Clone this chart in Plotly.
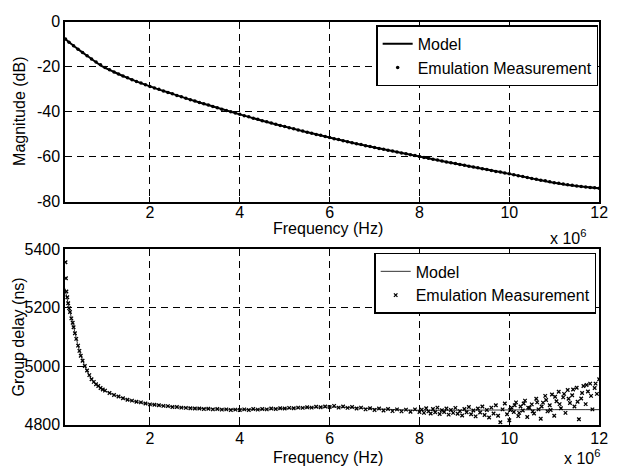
import plotly.graph_objects as go

# ---------------- data (frequency in MHz, i.e. x 10^6 Hz) ----------------
mag_model_f = [0.11, 0.25, 0.42, 0.6, 0.93, 1.2, 1.5, 2.0, 2.5, 3.0, 3.5, 4.0, 4.5, 5.0,
               5.5, 6.0, 6.5, 7.0, 7.5, 8.0, 8.5, 9.0, 9.5, 10.0, 10.5, 11.0, 11.5, 12.0]
mag_model_db = [-7.6, -10.0, -12.6, -15.2, -19.8, -22.4, -25.0, -28.8, -32.1, -35.3, -38.3,
                -41.2, -44.0, -46.6, -49.1, -51.5, -53.8, -55.9, -57.9, -59.9, -61.9, -63.8,
                -65.7, -67.6, -69.6, -71.5, -73.0, -74.0]

mag_meas_f = [0.12, 0.2, 0.3, 0.4, 0.5, 0.6, 0.7, 0.8, 0.9, 1.0, 1.1, 1.2, 1.3, 1.4, 1.5, 1.6,
              1.7, 1.8, 1.9, 2.0, 2.1, 2.2, 2.3, 2.4, 2.5, 2.6, 2.7, 2.8, 2.9, 3.0, 3.1, 3.2,
              3.3, 3.4, 3.5, 3.6, 3.7, 3.8, 3.9, 4.0, 4.1, 4.2, 4.3, 4.4, 4.5, 4.6, 4.7, 4.8,
              4.9, 5.0, 5.1, 5.2, 5.3, 5.4, 5.5, 5.6, 5.7, 5.8, 5.9, 6.0, 6.1, 6.2, 6.3, 6.4,
              6.5, 6.6, 6.7, 6.8, 6.9, 7.0, 7.1, 7.2, 7.3, 7.4, 7.5, 7.6, 7.7, 7.8, 7.9, 8.0,
              8.1, 8.2, 8.3, 8.4, 8.5, 8.6, 8.7, 8.8, 8.9, 9.0, 9.1, 9.2, 9.3, 9.4, 9.5, 9.6,
              9.7, 9.8, 9.9, 10.0, 10.1, 10.2, 10.3, 10.4, 10.5, 10.6, 10.7, 10.8, 10.9, 11.0,
              11.1, 11.2, 11.3, 11.4, 11.5, 11.6, 11.7, 11.8, 11.9, 12.0]
mag_meas_db = [-7.8, -9.2, -10.8, -12.3, -13.8, -15.2, -16.6, -18.0, -19.2, -20.4, -21.4,
               -22.4, -23.3, -24.2, -25.0, -25.8, -26.6, -27.3, -28.1, -28.8, -29.5, -30.1,
               -30.8, -31.5, -32.1, -32.8, -33.4, -34.0, -34.7, -35.3, -35.9, -36.5, -37.1,
               -37.7, -38.3, -38.9, -39.5, -40.0, -40.6, -41.2, -41.8, -42.3, -42.9, -43.4,
               -44.0, -44.5, -45.0, -45.6, -46.1, -46.6, -47.1, -47.6, -48.1, -48.6, -49.1,
               -49.6, -50.1, -50.5, -51.0, -51.5, -52.0, -52.4, -52.9, -53.3, -53.8, -54.2,
               -54.6, -55.1, -55.5, -55.9, -56.3, -56.7, -57.1, -57.5, -57.9, -58.3, -58.7,
               -59.1, -59.5, -59.9, -60.3, -60.7, -61.1, -61.5, -61.9, -62.3, -62.7, -63.0,
               -63.4, -63.8, -64.2, -64.6, -64.9, -65.3, -65.7, -66.1, -66.5, -66.8, -67.2,
               -67.6, -68.0, -68.4, -68.8, -69.2, -69.6, -70.0, -70.4, -70.7, -71.1, -71.5,
               -71.8, -72.1, -72.4, -72.7, -73.0, -73.2, -73.4, -73.6, -73.8, -74.0]

gd_model_f = [0.11, 0.15, 0.2, 0.25, 0.31, 0.36, 0.42, 0.5, 0.57, 0.65, 0.72, 0.82, 0.94,
              1.08, 1.23, 1.4, 1.6, 1.8, 2.0, 2.5, 3.0, 3.5, 4.0, 4.5, 5.0, 5.5, 6.0, 6.5,
              7.0, 7.5, 8.0, 9.0, 10.0, 11.0, 12.0]
gd_model_ns = [5265, 5235, 5200, 5165, 5128, 5095, 5058, 5020, 4993, 4968, 4950, 4935, 4921,
               4910, 4900, 4890, 4881, 4875, 4870, 4861, 4856, 4853, 4851, 4852, 4855, 4858,
               4860, 4858, 4854, 4851, 4849, 4849, 4850, 4851, 4851]

gd_meas_f = [0.12, 0.13, 0.14, 0.16, 0.18, 0.2, 0.22, 0.25, 0.28, 0.3, 0.33, 0.36, 0.4, 0.43,
             0.46, 0.5, 0.55, 0.6, 0.65, 0.7, 0.75, 0.8, 0.85, 0.9, 0.95, 1.0, 1.1, 1.2, 1.3,
             1.4, 1.5, 1.6, 1.7, 1.8, 1.9, 2.0,
             2.1, 2.2, 2.3, 2.4, 2.5, 2.6, 2.7, 2.8, 2.9, 3.0, 3.1, 3.2, 3.3, 3.4, 3.5, 3.6,
             3.7, 3.8, 3.9, 4.0, 4.1, 4.2, 4.3, 4.4, 4.5, 4.6, 4.7, 4.8, 4.9, 5.0, 5.1, 5.2,
             5.3, 5.4, 5.5, 5.6, 5.7, 5.8, 5.9, 6.0, 6.1, 6.2, 6.3, 6.4, 6.5, 6.6, 6.7, 6.8,
             6.9, 7.0, 7.1, 7.2, 7.3, 7.4, 7.5, 7.6, 7.7, 7.8, 7.9, 8.0,
             8.05, 8.1, 8.15, 8.2, 8.25, 8.3, 8.35, 8.4, 8.45, 8.5, 8.55, 8.6, 8.65, 8.7,
             8.75, 8.8, 8.85, 8.9, 8.95, 9.0, 9.05, 9.1, 9.15, 9.2, 9.25, 9.3, 9.35, 9.4,
             9.45, 9.5, 9.55, 9.6, 9.65, 9.7, 9.75, 9.8, 9.85, 9.9, 9.95, 10.0, 10.05, 10.1,
             10.15, 10.2, 10.25, 10.3, 10.35, 10.4, 10.45, 10.5, 10.55, 10.6, 10.65, 10.7,
             10.75, 10.8, 10.85, 10.9, 10.95, 11.0, 11.05, 11.1, 11.15, 11.2, 11.25, 11.3,
             11.35, 11.4, 11.45, 11.5, 11.55, 11.6, 11.65, 11.7, 11.75, 11.8, 11.85, 11.9,
             11.95, 12.0,
             10.02, 10.12, 10.22, 10.32, 10.42, 10.52, 10.62, 10.72, 10.82, 10.92, 11.02,
             11.12, 11.22, 11.32, 11.42, 11.52, 11.62, 11.72, 11.82, 11.92]
gd_meas_ns = [5355, 5300, 5255, 5235, 5215, 5198, 5185, 5163, 5148, 5133, 5112, 5093, 5070,
              5052, 5035, 5018, 5000, 4985, 4969, 4955, 4946, 4938, 4932, 4925, 4920, 4916,
              4908, 4901, 4896, 4890, 4885, 4882, 4878, 4876, 4872, 4869,
              4868, 4866, 4864, 4863, 4860, 4860, 4858, 4857, 4856, 4855, 4855, 4853, 4854,
              4852, 4853, 4851, 4852, 4850, 4851, 4850, 4852, 4850, 4853, 4851, 4853, 4852,
              4855, 4853, 4856, 4855, 4857, 4856, 4858, 4857, 4859, 4858, 4861, 4859, 4862,
              4860, 4864, 4858, 4862, 4857, 4860, 4855, 4858, 4852, 4856, 4850, 4855, 4848,
              4853, 4846, 4852, 4845, 4851, 4844, 4852, 4843,
              4851, 4840, 4856, 4845, 4838, 4853, 4842, 4858, 4836, 4849, 4843, 4855, 4834,
              4850, 4840, 4857, 4837, 4846, 4831, 4853, 4842, 4860, 4835, 4848, 4828, 4855,
              4841, 4862, 4833, 4850, 4824, 4858, 4838, 4866, 4830, 4808, 4852, 4872, 4835,
              4815, 4858, 4843, 4876, 4829, 4862, 4848, 4882, 4826, 4857, 4869, 4838, 4888,
              4852, 4820, 4875, 4898, 4845, 4866, 4903, 4830, 4880, 4912, 4856, 4893, 4840,
              4918, 4874, 4900, 4862, 4926, 4818, 4889, 4932, 4870, 4913, 4940, 4852, 4925,
              4905, 4955,
              4850, 4866, 4840, 4872, 4858, 4845, 4876, 4862, 4884, 4850, 4895, 4870, 4905,
              4888, 4920, 4878, 4908, 4935, 4898, 4940]

x_ticks = [2, 4, 6, 8, 10, 12]
mag_ticks = [-80, -60, -40, -20, 0]
gd_ticks = [4800, 5000, 5200, 5400]

# ---------------- figure ----------------
W, H = 618, 476
FONT = "Liberation Sans, Arial, sans-serif"


def px_x(p):
    return p / W


def px_y(p):
    return 1 - p / H


fig = go.Figure()

fig.add_trace(go.Scatter(x=mag_model_f, y=mag_model_db, mode="lines", name="Model",
                         line=dict(color="black", width=2, shape="spline"),
                         xaxis="x", yaxis="y", legend="legend"))
fig.add_trace(go.Scatter(x=mag_meas_f, y=mag_meas_db, mode="markers", name="Emulation Measurement",
                         marker=dict(color="black", size=3.5, symbol="circle"),
                         xaxis="x", yaxis="y", legend="legend"))
fig.add_trace(go.Scatter(x=gd_model_f, y=gd_model_ns, mode="lines", name="Model",
                         line=dict(color="#333333", width=1, shape="spline"),
                         xaxis="x2", yaxis="y2", legend="legend2"))
fig.add_trace(go.Scatter(x=gd_meas_f, y=gd_meas_ns, mode="markers", name="Emulation Measurement",
                         marker=dict(color="black", size=3.5, symbol="x-thin",
                                     line=dict(color="black", width=1.3)),
                         xaxis="x2", yaxis="y2", legend="legend2"))

xdom = [px_x(66), px_x(608)]
axis_common = dict(showline=True, linecolor="black", linewidth=1.5, mirror="ticks",
                   ticks="inside", ticklen=5, tickcolor="black", tickwidth=1,
                   showgrid=True, gridcolor="black", gridwidth=1, griddash="7px,5px",
                   zeroline=False, tickfont=dict(family=FONT, size=16, color="black"))

fig.update_layout(
    width=W, height=H,
    margin=dict(l=0, r=0, t=0, b=0),
    paper_bgcolor="white", plot_bgcolor="white",
    showlegend=True,
    xaxis=dict(domain=xdom, range=[0.11, 12], tickvals=x_ticks, ticklabelstandoff=-5,
               ticktext=[str(v) for v in x_ticks], anchor="y", **axis_common),
    yaxis=dict(domain=[px_y(201), px_y(14)], range=[-80, 0], tickvals=mag_ticks,
               ticktext=[str(v) for v in mag_ticks], anchor="x", **axis_common),
    xaxis2=dict(domain=xdom, range=[0.11, 12], tickvals=x_ticks, ticklabelstandoff=-2,
                ticktext=[str(v) for v in x_ticks], anchor="y2", **axis_common),
    yaxis2=dict(domain=[px_y(432), px_y(250)], range=[4800, 5400], tickvals=gd_ticks,
                ticktext=[str(v) for v in gd_ticks], anchor="x2", **axis_common),
    legend=dict(x=px_x(607), y=px_y(18), xanchor="right", yanchor="top",
                bgcolor="white", bordercolor="black", borderwidth=1.5,
                font=dict(family=FONT, size=16, color="black"),
                tracegroupgap=0, itemwidth=30),
    legend2=dict(x=px_x(605), y=px_y(254), xanchor="right", yanchor="top",
                 bgcolor="white", bordercolor="black", borderwidth=1.5,
                 font=dict(family=FONT, size=16, color="black"),
                 tracegroupgap=0, itemwidth=30),
)

ann_font = dict(family=FONT, size=16, color="black")
annotations = [
    dict(text="Frequency (Hz)", x=px_x(333), y=px_y(229), xref="paper", yref="paper",
         xanchor="center", yanchor="middle", showarrow=False, font=ann_font),
    dict(text="Frequency (Hz)", x=px_x(333), y=px_y(466), xref="paper", yref="paper",
         xanchor="center", yanchor="middle", showarrow=False, font=ann_font),
    dict(text="x 10<sup>6</sup>", x=px_x(556), y=px_y(237), xref="paper", yref="paper",
         xanchor="left", yanchor="middle", showarrow=False, font=ann_font),
    dict(text="x 10<sup>6</sup>", x=px_x(570), y=px_y(466), xref="paper", yref="paper",
         xanchor="left", yanchor="middle", showarrow=False, font=ann_font),
    dict(text="Magnitude (dB)", x=px_x(19), y=px_y(107), xref="paper", yref="paper",
         xanchor="center", yanchor="middle", textangle=-90, showarrow=False, font=ann_font),
    dict(text="Group delay (ns)", x=px_x(19), y=px_y(341), xref="paper", yref="paper",
         xanchor="center", yanchor="middle", textangle=-90, showarrow=False, font=ann_font),
]
fig.update_layout(annotations=annotations)

fig.write_html("out.html")
